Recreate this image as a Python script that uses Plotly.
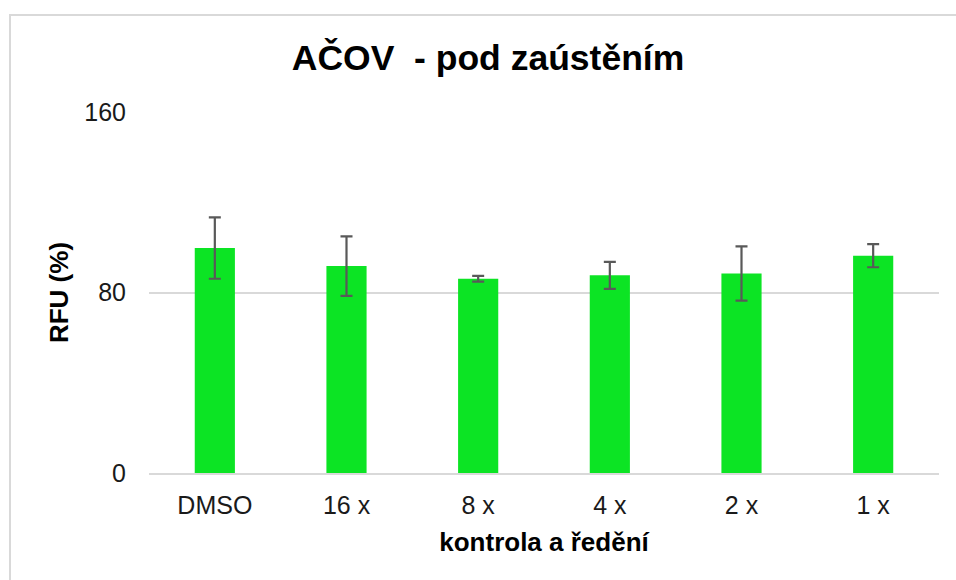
import plotly.graph_objects as go

# Sample groups and measured relative fluorescence (% of control)
categories = ["DMSO", "16 x", "8 x", "4 x", "2 x", "1 x"]
rfu_mean = [99.7, 91.7, 86.1, 87.6, 88.4, 96.3]
rfu_err = [13.6, 13.2, 1.3, 6.0, 12.0, 5.1]
y_ticks = [0, 80, 160]

W, H = 956, 580
ML, MR, MT, MB = 149, 17, 112, 107
plot_w = W - ML - MR
plot_h = H - MT - MB

FONT = "Liberation Sans, Arial, sans-serif"
GRID = "#d9d9d9"

fig = go.Figure(
    go.Bar(
        x=categories,
        y=rfu_mean,
        marker=dict(color="#0CE424", line=dict(width=0)),
        error_y=dict(
            type="data",
            array=rfu_err,
            visible=True,
            color="#595959",
            thickness=2.2,
            width=6,
        ),
        width=0.305,
    )
)

# outer chart frame (left and top edges visible)
fx0 = (10 - ML) / plot_w
fy1 = (H - MB - 15) / plot_h
fig.add_shape(
    type="rect", xref="paper", yref="paper",
    x0=fx0, x1=1.3, y0=-1.0, y1=fy1,
    line=dict(color=GRID, width=2), fillcolor="rgba(0,0,0,0)",
    layer="below",
)

fig.update_layout(
    width=W,
    height=H,
    margin=dict(l=ML, r=MR, t=MT, b=MB),
    paper_bgcolor="white",
    plot_bgcolor="white",
    showlegend=False,
    font=dict(family=FONT, color="#1a1a1a"),
    title=dict(
        text="<b>AČOV\u00a0 - pod zaústěním</b>",
        font=dict(family=FONT, size=35.5, color="#000000"),
        x=488 / W, xref="container", xanchor="center",
        y=1 - 58 / H, yref="container", yanchor="middle",
    ),
    xaxis=dict(
        title=dict(
            text="<b>kontrola a ředění</b>",
            font=dict(family=FONT, size=26, color="#000000"),
            standoff=15,
        ),
        tickfont=dict(family=FONT, size=25, color="#1a1a1a"),
        showline=True,
        linecolor=GRID,
        linewidth=2,
        showgrid=False,
        ticks="",
        ticklabelstandoff=9,
    ),
    yaxis=dict(
        title=dict(
            text="<b>RFU (%)</b>",
            font=dict(family=FONT, size=26, color="#000000"),
            standoff=8,
        ),
        range=[0, 160],
        tickvals=y_ticks,
        tickfont=dict(family=FONT, size=25, color="#1a1a1a"),
        showgrid=True,
        gridcolor=GRID,
        gridwidth=1.6,
        zeroline=False,
        showline=False,
        ticks="",
        ticklabelstandoff=22,
    ),
)

fig.write_html("out.html")
